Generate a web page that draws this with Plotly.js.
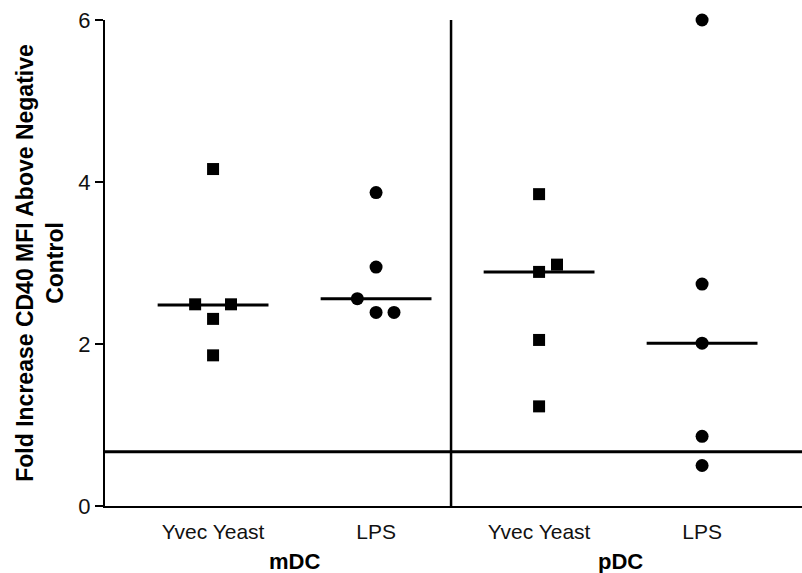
<!DOCTYPE html>
<html>
<head>
<meta charset="utf-8">
<script src="https://cdn.plot.ly/plotly-3.0.1.min.js"></script>
<style>html,body{margin:0;padding:0;background:#fff;}#chart{width:802px;height:573px;}</style>
</head>
<body>
<div id="chart"></div>
<script>
// ---- data ----
var categories = ['Yvec Yeast', 'LPS', 'Yvec Yeast', 'LPS'];
var groups = ['mDC', 'pDC'];
var mdcYvec = [4.16, 2.49, 2.49, 2.31, 1.86];
var mdcYvecJitter = [0, -0.11, 0.11, 0, 0];
var mdcLps = [3.87, 2.95, 2.56, 2.39, 2.39];
var mdcLpsJitter = [0, 0, -0.115, 0, 0.11];
var pdcYvec = [3.85, 2.98, 2.89, 2.05, 1.23];
var pdcYvecJitter = [0, 0.11, 0, 0, 0];
var pdcLps = [6.0, 2.74, 2.01, 0.86, 0.50];
var pdcLpsJitter = [0, 0, 0, 0, 0];
var medians = [2.48, 2.56, 2.89, 2.01];
var negControl = 0.67;
var yTicks = [0, 2, 4, 6];

var series = [
  {y: mdcYvec, j: mdcYvecJitter, sym: 'square', size: 12},
  {y: mdcLps, j: mdcLpsJitter, sym: 'circle', size: 13},
  {y: pdcYvec, j: pdcYvecJitter, sym: 'square', size: 12},
  {y: pdcLps, j: pdcLpsJitter, sym: 'circle', size: 13}
];

var traces = [];
series.forEach(function (s, i) {
  var pos = i + 1;
  traces.push({
    type: 'scatter', mode: 'markers',
    x: s.y.map(function (v, k) { return pos + s.j[k]; }),
    y: s.y,
    marker: {symbol: s.sym, size: s.size, color: '#000'},
    cliponaxis: false, showlegend: false, hoverinfo: 'y'
  });
  traces.push({
    type: 'scatter', mode: 'lines',
    x: [pos - 0.34, pos + 0.34],
    y: [medians[i], medians[i]],
    line: {color: '#000', width: 3},
    showlegend: false, hoverinfo: 'skip'
  });
});

var font = "'Liberation Sans', Arial, Helvetica, sans-serif";

var layout = {
  width: 802, height: 573,
  margin: {l: 105, r: 0, t: 20, b: 67},
  paper_bgcolor: '#fff', plot_bgcolor: '#fff',
  font: {family: font, color: '#000', size: 20},
  showlegend: false,
  xaxis: {
    range: [0.337, 4.613],
    tickvals: [1, 2, 3, 4],
    ticktext: categories,
    ticks: 'outside', ticklen: 6, tickcolor: 'rgba(0,0,0,0)',
    showgrid: false, zeroline: false,
    showline: true, linecolor: '#000', linewidth: 2,
    tickfont: {size: 21, family: font, color: '#111'},
    fixedrange: true
  },
  yaxis: {
    range: [0, 6],
    tickvals: yTicks,
    ticks: 'outside', ticklen: 8, tickwidth: 2, tickcolor: '#000',
    showgrid: false, zeroline: false,
    showline: true, linecolor: '#000', linewidth: 2,
    tickfont: {size: 22, family: font, color: '#111'},
    title: {
      text: '<b>Fold Increase CD40 MFI Above Negative<br>Control</b>',
      font: {size: 23, family: font, color: '#000'},
      standoff: 8
    },
    fixedrange: true
  },
  shapes: [
    {type: 'line', xref: 'paper', yref: 'y', x0: 0, x1: 1, y0: negControl, y1: negControl,
     line: {color: '#000', width: 3}},
    {type: 'line', xref: 'x', yref: 'y', x0: 2.46, x1: 2.46, y0: 0, y1: 6,
     line: {color: '#000', width: 2.5}}
  ],
  annotations: [
    {text: '<b>' + groups[0] + '</b>', x: 1.5, xref: 'x', y: -0.115, yref: 'paper',
     yanchor: 'middle', showarrow: false, font: {size: 22, family: font, color: '#000'}},
    {text: '<b>' + groups[1] + '</b>', x: 3.5, xref: 'x', y: -0.115, yref: 'paper',
     yanchor: 'middle', showarrow: false, font: {size: 22, family: font, color: '#000'}}
  ]
};

Plotly.newPlot('chart', traces, layout, {displayModeBar: false, staticPlot: true});
</script>
</body>
</html>
